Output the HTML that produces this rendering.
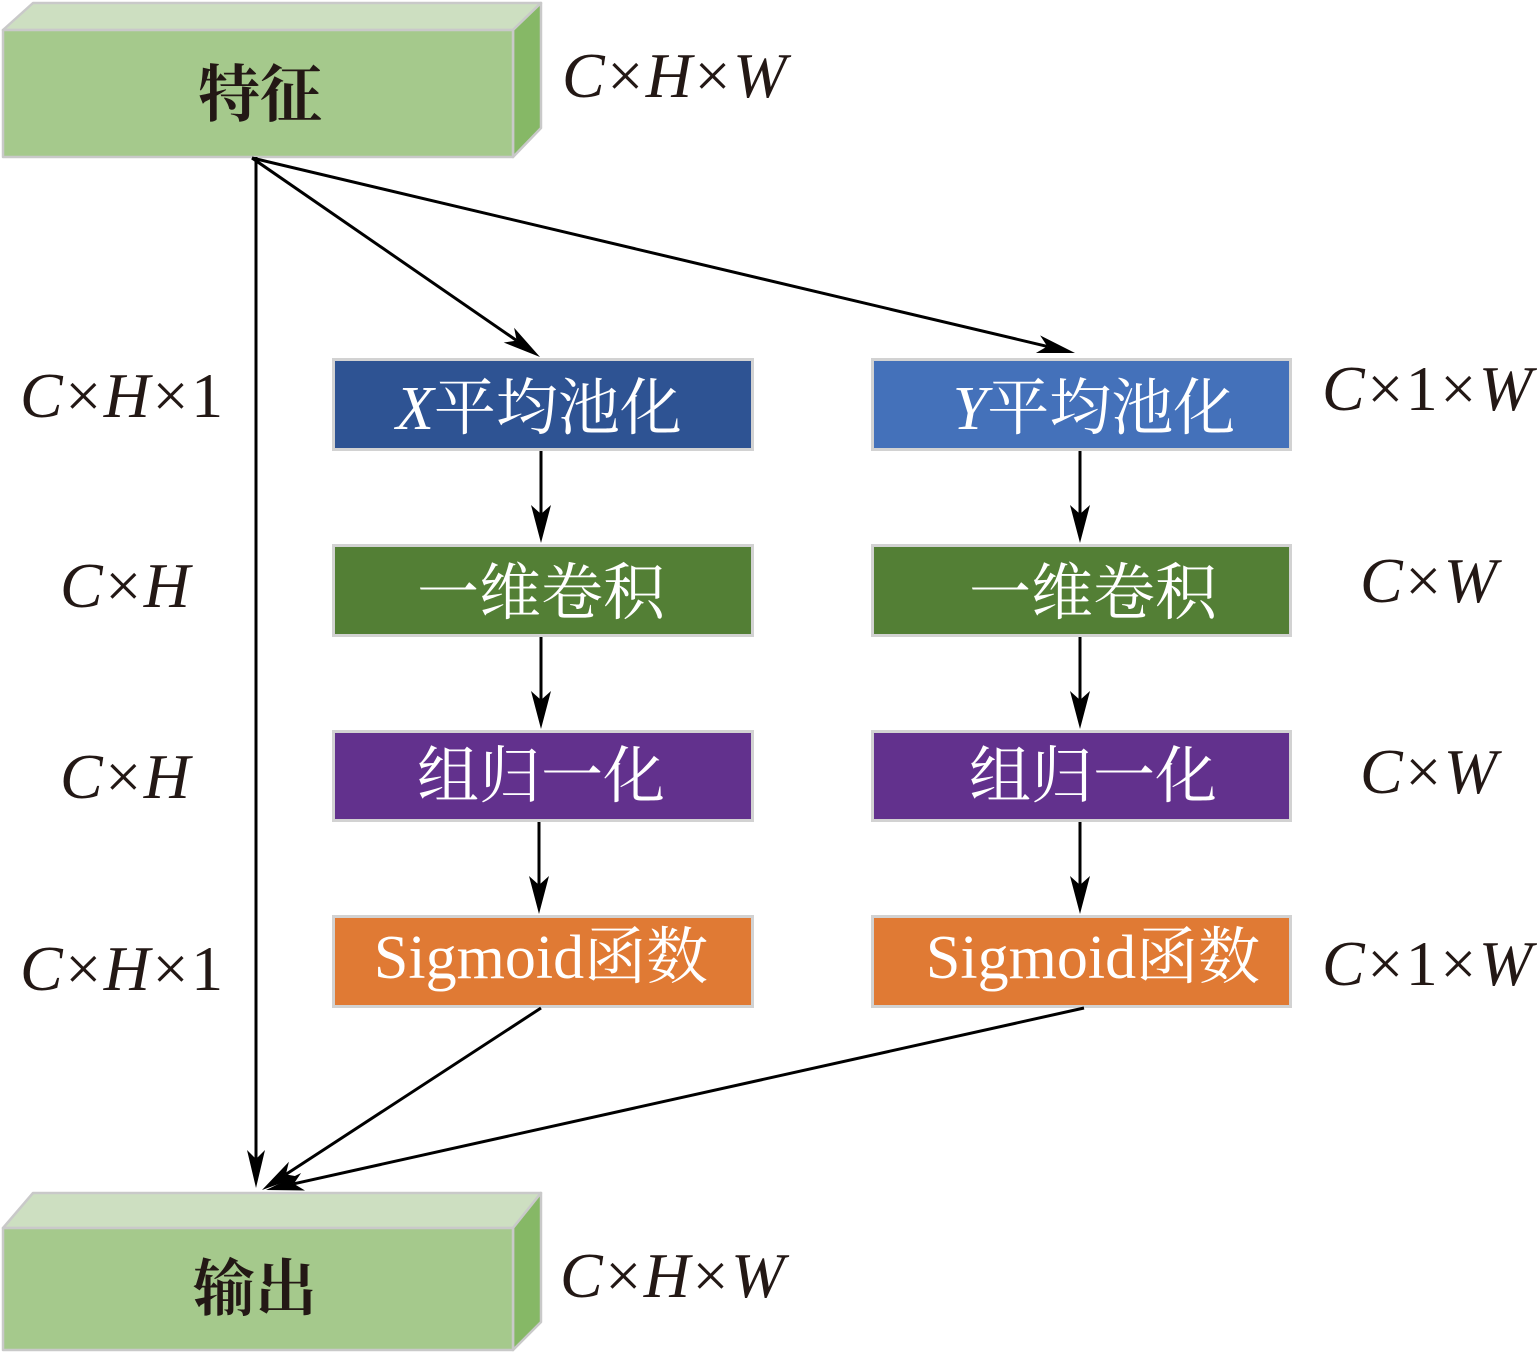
<!DOCTYPE html>
<html><head><meta charset="utf-8"><style>
html,body{margin:0;padding:0;background:#fff;}
svg{display:block;}
.cj{font-family:"Liberation Serif","Noto Serif CJK SC",serif;}
.lb{font-family:"Liberation Serif",serif;font-size:64px;fill:#231815;letter-spacing:2.5px;}
.it{font-style:italic;}
</style></head><body>
<svg width="1539" height="1353" viewBox="0 0 1539 1353" xmlns="http://www.w3.org/2000/svg">
<!-- Top 3D box -->
<g stroke="#c9c9c9" stroke-width="2.5" stroke-linejoin="round">
<polygon points="3,30 33,3 541,3 513,30" fill="#cddfc1"/>
<polygon points="513,30 541,3 541,128 513,157" fill="#86b866"/>
<rect x="3" y="30" width="510" height="127" fill="#a5c98c"/>
</g>
<text x="260" y="116" text-anchor="middle" class="cj" font-size="62" font-weight="bold" fill="#231815">特征</text>
<text x="562" y="97" class="lb"><tspan class="it">C</tspan>×<tspan class="it">H</tspan>×<tspan class="it">W</tspan></text>

<!-- Bottom 3D box -->
<g stroke="#c9c9c9" stroke-width="2.5" stroke-linejoin="round">
<polygon points="3,1228 33,1193 541,1193 513,1228" fill="#cddfc1"/>
<polygon points="513,1228 541,1193 541,1322 513,1350" fill="#86b866"/>
<rect x="3" y="1228" width="510" height="122" fill="#a5c98c"/>
</g>
<text x="255" y="1310" text-anchor="middle" class="cj" font-size="62" font-weight="bold" fill="#231815">输出</text>
<text x="560" y="1297" class="lb"><tspan class="it">C</tspan>×<tspan class="it">H</tspan>×<tspan class="it">W</tspan></text>

<!-- Boxes -->
<g stroke="#d2d2d2" stroke-width="3">
<rect x="333.5" y="359.5" width="419" height="90" fill="#2e5393"/>
<rect x="872.5" y="359.5" width="418" height="90" fill="#4471ba"/>
<rect x="333.5" y="545.5" width="419" height="90" fill="#537f35"/>
<rect x="872.5" y="545.5" width="418" height="90" fill="#537f35"/>
<rect x="333.5" y="731.5" width="419" height="89" fill="#62318d"/>
<rect x="872.5" y="731.5" width="418" height="89" fill="#62318d"/>
<rect x="333.5" y="916.5" width="419" height="90" fill="#e07a34"/>
<rect x="872.5" y="916.5" width="418" height="90" fill="#e07a34"/>
</g>

<g class="cj" font-size="62" fill="#fff" text-anchor="middle">
<text x="539" y="429"><tspan font-style="italic">X</tspan>平均池化</text>
<text x="1094" y="429"><tspan font-style="italic">Y</tspan>平均池化</text>
<text x="541" y="614">一维卷积</text>
<text x="1093" y="614">一维卷积</text>
<text x="541" y="797">组归一化</text>
<text x="1093" y="797">组归一化</text>
<text x="541" y="978">Sigmoid函数</text>
<text x="1093" y="978">Sigmoid函数</text>
</g>

<!-- Side labels -->
<text x="20" y="417" class="lb"><tspan class="it">C</tspan>×<tspan class="it">H</tspan>×1</text>
<text x="60" y="607" class="lb"><tspan class="it">C</tspan>×<tspan class="it">H</tspan></text>
<text x="60" y="798" class="lb"><tspan class="it">C</tspan>×<tspan class="it">H</tspan></text>
<text x="20" y="990" class="lb"><tspan class="it">C</tspan>×<tspan class="it">H</tspan>×1</text>
<text x="1322" y="410" class="lb"><tspan class="it">C</tspan>×1×<tspan class="it">W</tspan></text>
<text x="1360" y="602" class="lb"><tspan class="it">C</tspan>×<tspan class="it">W</tspan></text>
<text x="1360" y="793" class="lb"><tspan class="it">C</tspan>×<tspan class="it">W</tspan></text>
<text x="1322" y="985" class="lb"><tspan class="it">C</tspan>×1×<tspan class="it">W</tspan></text>

<!-- Connectors -->
<g stroke="#000" stroke-width="3" fill="none">
<line x1="256" y1="157" x2="256" y2="1160"/>
<line x1="252" y1="158" x2="516.7" y2="340.6"/>
<line x1="252" y1="158" x2="1047.3" y2="346.4"/>
<line x1="541" y1="1008" x2="285.9" y2="1174.4"/>
<line x1="1084" y1="1008" x2="293.8" y2="1183.8"/>
<line x1="541" y1="451" x2="541" y2="516"/>
<line x1="541" y1="637" x2="541" y2="702"/>
<line x1="539" y1="822" x2="539" y2="887"/>
<line x1="1080" y1="451" x2="1080" y2="516"/>
<line x1="1080" y1="637" x2="1080" y2="702"/>
<line x1="1080" y1="822" x2="1080" y2="887"/>
</g>
<g fill="#000">
<polygon points="256,1188 265,1150 256,1159 247,1150"/>
<polygon points="540,357 503.7,342.5 516.7,340.6 514.1,327.7"/>
<polygon points="1075,353 1035.9,353 1047.3,346.4 1040.1,335.4"/>
<polygon points="262,1190 288.9,1161.7 285.9,1174.4 298.8,1176.8"/>
<polygon points="266,1190 301.1,1173 293.8,1183.8 305,1190.5"/>
<polygon points="541,543 551,505 541,514 531,505"/>
<polygon points="541,729 551,691 541,700 531,691"/>
<polygon points="539,914 549,876 539,885 529,876"/>
<polygon points="1080,543 1090,505 1080,514 1070,505"/>
<polygon points="1080,729 1090,691 1080,700 1070,691"/>
<polygon points="1080,914 1090,876 1080,885 1070,876"/>
</g>
</svg>
</body></html>
